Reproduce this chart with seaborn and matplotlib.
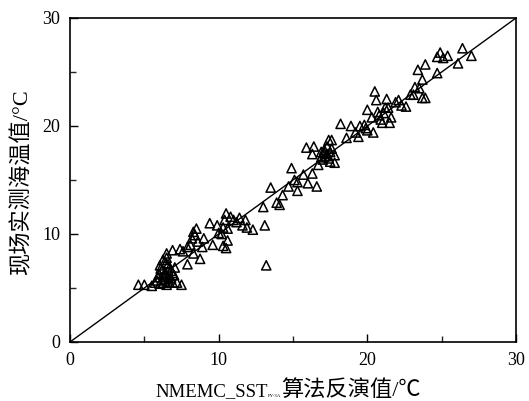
import matplotlib
matplotlib.use("Agg")
import matplotlib.pyplot as plt
import seaborn as sns
import pandas as pd

# Retrieved SST (NMEMC_SST, FY-3A) vs in-situ measured SST, degC
retrieved = [
    4.6, 5.0, 5.5, 6.05, 6.5, 6.9, 7.5,
    6.05, 6.25, 6.5, 6.2, 6.4, 6.7, 7.05, 6.9, 6.6, 5.9, 5.85, 6.25, 6.7, 7.2, 6.5, 6.45,
    6.0, 6.3, 6.6, 6.8, 7.0, 6.1, 6.35, 6.55, 5.7, 6.8,
    6.9, 7.4, 7.9, 7.9, 8.3, 8.5, 8.4, 8.6, 8.75, 8.9, 8.2, 8.3, 8.1, 7.6, 9.0,
    9.4, 9.6, 9.9, 10.0, 10.3, 10.5, 10.4, 10.3, 10.6, 10.5, 10.8, 11.0, 11.4, 11.6,
    11.8, 11.9, 12.3, 10.6, 10.2, 11.2,
    13.0, 13.1, 13.2, 13.5, 13.9, 14.3, 14.7, 14.9, 15.1, 15.3, 15.3, 15.7, 16.0, 16.3,
    16.6, 14.1,
    15.9, 16.4, 16.3, 16.7, 16.9, 17.1, 17.4, 17.6, 17.5, 17.8, 17.8, 17.5, 17.0, 17.3,
    17.2, 17.4, 17.1, 17.6, 16.9, 17.3,
    18.2, 18.6, 18.9, 19.2, 19.4, 19.5, 19.8, 20.0, 20.4, 20.0, 20.5, 20.6, 20.7, 20.8,
    21.0, 21.3, 21.5, 21.6, 21.2, 21.4, 21.9, 22.1, 22.3, 22.6, 20.3, 20.9, 21.1, 19.9,
    22.9, 23.1, 23.2, 23.4, 23.7, 23.7, 23.9, 23.9, 23.5,
    24.7, 24.7, 24.9, 25.1, 25.4, 26.1, 26.4, 27.0,
]
measured = [
    5.3, 5.3, 5.2, 5.4, 5.3, 5.5, 5.3,
    7.1, 7.6, 7.8, 6.7, 6.4, 6.9, 6.9, 6.4, 6.0, 6.0, 5.7, 5.5, 5.5, 5.5, 8.2, 7.3,
    6.3, 6.2, 7.2, 6.6, 6.2, 6.8, 5.8, 5.6, 5.5, 5.9,
    8.5, 8.6, 8.8, 7.2, 8.2, 10.5, 9.9, 9.3, 7.7, 8.8, 9.6, 10.2, 9.0, 8.4, 9.6,
    11.0, 9.0, 10.8, 10.1, 8.9, 8.7, 11.3, 10.6, 10.5, 11.9, 11.6, 11.3, 11.5, 10.8,
    11.3, 10.6, 10.4, 9.4, 10.0, 11.1,
    12.5, 10.8, 7.1, 14.3, 12.9, 13.6, 14.4, 16.1, 15.0, 14.0, 14.8, 15.5, 14.7, 15.6,
    14.4, 12.7,
    18.0, 18.1, 17.4, 16.4, 17.1, 17.5, 18.7, 18.7, 17.6, 17.3, 16.6, 16.7, 16.9, 18.1,
    17.2, 17.0, 17.8, 17.9, 17.6, 17.4,
    20.2, 18.9, 20.0, 19.4, 19.0, 20.0, 20.1, 19.6, 19.4, 21.5, 23.2, 22.4, 21.3, 21.0,
    20.3, 22.5, 20.3, 20.8, 21.7, 21.7, 22.2, 22.4, 21.9, 21.8, 20.8, 20.6, 21.2, 19.8,
    22.9, 22.9, 23.6, 25.2, 24.3, 22.6, 25.7, 22.6, 23.5,
    24.9, 26.4, 26.8, 26.3, 26.5, 25.8, 27.2, 26.5,
]

x_ticks = [0, 10, 20, 30]
y_ticks = [0, 10, 20, 30]
x_label_main = "NMEMC_SST"
x_label_sub = "FY-3A"
x_label_tail = "算法反演值/℃"
y_label = "现场实测海温值/°C"

sns.set_theme(style="white")
fonts = ["Liberation Serif", "Noto Sans CJK SC"]
plt.rcParams["font.family"] = fonts

df = pd.DataFrame({"retrieved": retrieved, "measured": measured})

W, H = 529, 401
fig = plt.figure(figsize=(W / 100, H / 100), dpi=100)
ax = fig.add_axes([70 / W, 1 - 342 / H, 446 / W, 324 / H])

# 1:1 reference line
ax.plot([0, 30], [0, 30], color="black", lw=1.0, zorder=1)

sns.scatterplot(data=df, x="retrieved", y="measured", ax=ax, marker="^",
                s=44, facecolors="none", edgecolor="black", linewidth=1.1,
                zorder=2, legend=False)

ax.set_xlim(0, 30)
ax.set_ylim(0, 30)
ax.set_xticks(x_ticks)
ax.set_yticks(y_ticks)
ax.set_xticks([5, 15, 25], minor=True)
ax.set_yticks([5, 15, 25], minor=True)
ax.tick_params(which="major", direction="in", length=6, width=1, labelsize=13,
               colors="black", bottom=True, left=True, pad=7)
ax.tick_params(which="minor", direction="in", length=4, width=1,
               bottom=True, left=True)
for sp in ax.spines.values():
    sp.set_color("black")
    sp.set_linewidth(1.2)
ax.set_xlabel("")
ax.set_ylabel("")

# x label assembled from pieces: main text, small subscript, CJK tail
renderer = fig.canvas.get_renderer()
base_y = 1 - 396 / H
t1 = fig.text(155 / W, base_y, x_label_main, fontsize=13.5, va="baseline",
              ha="left", color="black", family=fonts)
x1 = t1.get_window_extent(renderer).x1
t2 = fig.text(x1 / W + 0.5 / W, base_y - 1.0 / H, x_label_sub, fontsize=3.5,
              va="baseline", ha="left", color="black", family=fonts)
x2 = t2.get_window_extent(renderer).x1
fig.text(x2 / W, base_y, x_label_tail, fontsize=16, va="baseline", ha="left",
         color="black", family=fonts, fontweight="light")

# y label
fig.text(22 / W, 1 - 182 / H, y_label, fontsize=16, rotation=90,
         va="center", ha="center", color="black", family=fonts,
         fontweight="light")

fig.savefig("out.png", dpi=100)
